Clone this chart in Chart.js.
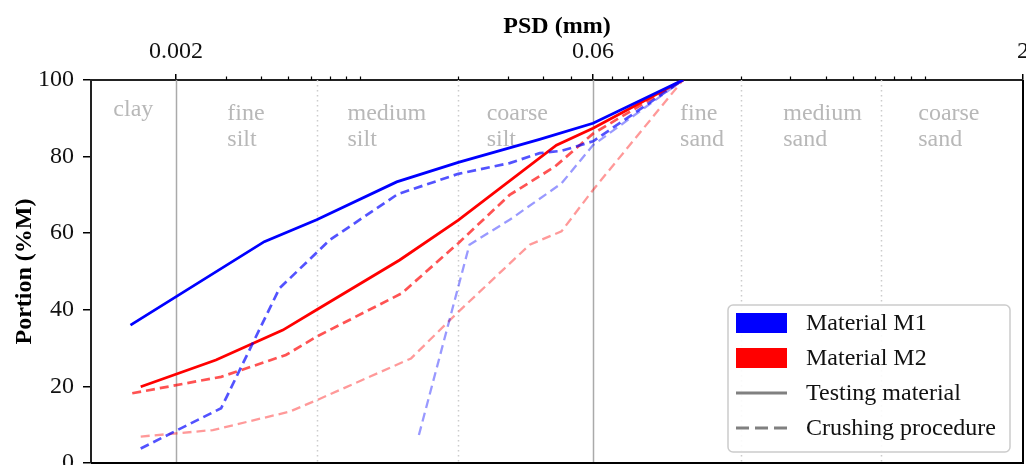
<!DOCTYPE html>
<html>
<head>
<meta charset="utf-8">
<script src="https://cdn.jsdelivr.net/npm/chart.js@4.4.0/dist/chart.umd.min.js"></script>
<style>
  html, body { margin: 0; padding: 0; background: #fff; overflow: hidden; }
  #wrap { width: 1026px; height: 465px; overflow: hidden; }
  canvas { display: block; }
</style>
</head>
<body>
<div id="wrap"><canvas id="psd" width="1050" height="500"></canvas></div>
<script>
// particle size (mm) and portion (%M) for each curve
const m1TestSize = [0.00138, 0.00411, 0.0063, 0.0121, 0.02, 0.0388, 0.06, 0.125];
const m1TestPortion = [36, 57.8, 63.5, 73.4, 78.5, 84.5, 88.7, 100];

const m1CrushASize = [0.0015, 0.00289, 0.00465, 0.007, 0.0122, 0.02, 0.0304, 0.0388, 0.0464, 0.06, 0.125];
const m1CrushAPortion = [3.8, 14.3, 45.6, 58.2, 70.2, 75.5, 78.3, 80.9, 81.5, 84, 100];

const m1CrushBSize = [0.0145, 0.0219, 0.0304, 0.0464, 0.06, 0.125];
const m1CrushBPortion = [7.3, 57, 63.5, 73, 83, 100];

const m2TestSize = [0.0015, 0.00277, 0.00478, 0.0063, 0.0124, 0.02, 0.0445, 0.06, 0.125];
const m2TestPortion = [19.9, 26.9, 34.7, 40, 53, 63.4, 83, 87.4, 100];

const m2CrushASize = [0.0014, 0.00289, 0.0049, 0.0063, 0.0126, 0.02, 0.0304, 0.044, 0.06, 0.125];
const m2CrushAPortion = [18.2, 22.5, 28.2, 33, 44.3, 57.4, 70, 77.4, 86, 100];

const m2CrushBSize = [0.0015, 0.0027, 0.00505, 0.0063, 0.0136, 0.0197, 0.0358, 0.0464, 0.06, 0.125];
const m2CrushBPortion = [6.9, 8.6, 13.4, 16.4, 27.3, 39, 57, 60.5, 71.3, 100];

// axes
const xMajorTicks = [0.002, 0.06, 2];
const xMinorTicks = [0.003, 0.004, 0.005, 0.006, 0.007, 0.008, 0.009,
  0.02, 0.03, 0.04, 0.05, 0.07, 0.08, 0.09,
  0.2, 0.3, 0.4, 0.5, 0.6, 0.7, 0.8, 0.9];
const yTicks = [0, 20, 40, 60, 80, 100];

// soil classes
const solidBounds = [0.002, 0.06];
const dottedBounds = [0.0063, 0.02, 0.2, 0.63];
const soilNames = [["clay"], ["fine", "silt"], ["medium", "silt"], ["coarse", "silt"],
  ["fine", "sand"], ["medium", "sand"], ["coarse", "sand"]];
const soilLabelX = [0.0012, 0.00304, 0.0081, 0.0252, 0.122, 0.283, 0.851];
const soilLabelY = [90.6, 89.6, 89.6, 89.6, 89.6, 89.6, 89.6];

const legendItems = ["Material M1", "Material M2", "Testing material", "Crushing procedure"];

const SERIF = "'Liberation Serif', 'Times New Roman', serif";

function pts(xs, ys) {
    return xs.map((x, i) => ({ x: x, y: ys[i] }));
}

function series(label, xs, ys, color, width, dash) {
    return {
        label: label,
        data: pts(xs, ys),
        borderColor: color,
        borderWidth: width,
        borderDash: dash,
        pointRadius: 0,
        tension: 0,
        fill: false
    };
}

const dash = [9, 5];

const soilPlugin = {
    id: "soil",
    beforeDatasetsDraw(chart) {
        const ctx = chart.ctx;
        const area = chart.chartArea;
        const xs = chart.scales.x;
        const ys = chart.scales.y;
        ctx.save();
        ctx.lineWidth = 1.5;
        ctx.strokeStyle = "#aaaaaa";
        solidBounds.forEach(v => {
            const px = Math.round(xs.getPixelForValue(v)) + 0.5;
            ctx.beginPath();
            ctx.moveTo(px, area.top);
            ctx.lineTo(px, area.bottom);
            ctx.stroke();
        });
        ctx.strokeStyle = "#cccccc";
        ctx.setLineDash([1.5, 3.5]);
        dottedBounds.forEach(v => {
            const px = Math.round(xs.getPixelForValue(v)) + 0.5;
            ctx.beginPath();
            ctx.moveTo(px, area.top);
            ctx.lineTo(px, area.bottom);
            ctx.stroke();
        });
        ctx.setLineDash([]);
        ctx.fillStyle = "#b8b8b8";
        ctx.font = "24px " + SERIF;
        ctx.textAlign = "left";
        ctx.textBaseline = "alphabetic";
        soilNames.forEach((lines, i) => {
            const px = xs.getPixelForValue(soilLabelX[i]);
            const py = ys.getPixelForValue(soilLabelY[i]);
            lines.forEach((t, j) => ctx.fillText(t, px, py + j * 26.5));
        });
        ctx.restore();
    },
    afterDraw(chart) {
        const ctx = chart.ctx;
        const area = chart.chartArea;
        const xs = chart.scales.x;
        ctx.save();
        // frame: right and bottom spines
        ctx.strokeStyle = "#000";
        ctx.lineWidth = 2;
        ctx.beginPath();
        ctx.moveTo(area.right, area.top);
        ctx.lineTo(area.right, area.bottom);
        ctx.lineTo(area.left, area.bottom);
        ctx.stroke();
        // minor ticks on the top axis
        ctx.lineWidth = 1.2;
        xMinorTicks.forEach(v => {
            const px = Math.round(xs.getPixelForValue(v)) + 0.5;
            ctx.beginPath();
            ctx.moveTo(px, area.top);
            ctx.lineTo(px, area.top - 3.5);
            ctx.stroke();
        });
        // legend
        const bx = 728, by = 305, bw = 282, bh = 147;
        ctx.fillStyle = "rgba(255,255,255,0.9)";
        ctx.strokeStyle = "#cccccc";
        ctx.lineWidth = 1.5;
        ctx.beginPath();
        ctx.roundRect(bx, by, bw, bh, 5);
        ctx.fill();
        ctx.stroke();
        const rowY = [323, 358, 393, 428];
        ctx.fillStyle = "#0000ff";
        ctx.fillRect(736, 313, 51, 20);
        ctx.fillStyle = "#ff0000";
        ctx.fillRect(736, 348, 51, 20);
        ctx.strokeStyle = "#808080";
        ctx.lineWidth = 3;
        ctx.beginPath();
        ctx.moveTo(736, rowY[2]);
        ctx.lineTo(787, rowY[2]);
        ctx.stroke();
        ctx.setLineDash([13, 6]);
        ctx.beginPath();
        ctx.moveTo(736, rowY[3]);
        ctx.lineTo(787, rowY[3]);
        ctx.stroke();
        ctx.setLineDash([]);
        ctx.fillStyle = "#111";
        ctx.font = "24px " + SERIF;
        ctx.textAlign = "left";
        ctx.textBaseline = "middle";
        legendItems.forEach((t, i) => ctx.fillText(t, 806, rowY[i] + 1));
        ctx.restore();
    }
};

new Chart(document.getElementById("psd"), {
    type: "line",
    data: {
        datasets: [
            series("M1 testing", m1TestSize, m1TestPortion, "#0000ff", 2.8, []),
            series("M1 crushing A", m1CrushASize, m1CrushAPortion, "rgba(0,0,255,0.68)", 2.7, dash),
            series("M1 crushing B", m1CrushBSize, m1CrushBPortion, "rgba(0,0,255,0.4)", 2.3, dash),
            series("M2 testing", m2TestSize, m2TestPortion, "#ff0000", 2.8, []),
            series("M2 crushing A", m2CrushASize, m2CrushAPortion, "rgba(255,0,0,0.68)", 2.7, dash),
            series("M2 crushing B", m2CrushBSize, m2CrushBPortion, "rgba(255,0,0,0.4)", 2.3, dash)
        ]
    },
    options: {
        responsive: false,
        animation: false,
        devicePixelRatio: 1,
        layout: { padding: { left: 0, top: 0, right: 27, bottom: 37 } },
        plugins: { legend: { display: false }, tooltip: { enabled: false } },
        scales: {
            x: {
                type: "logarithmic",
                position: "top",
                min: 0.001,
                max: 2,
                afterBuildTicks: s => { s.ticks = xMajorTicks.map(v => ({ value: v })); },
                afterFit: s => { s.height = 80; s.paddingLeft = 0; s.paddingRight = 0; },
                ticks: {
                    autoSkip: false,
                    maxRotation: 0,
                    padding: 8,
                    color: "#111",
                    font: { family: SERIF, size: 24 },
                    callback: v => String(v)
                },
                grid: { drawOnChartArea: false, drawTicks: true, tickLength: 6, color: "#000", lineWidth: 1.5 },
                border: { display: true, color: "#222", width: 2 },
                title: {
                    display: true,
                    text: "PSD (mm)",
                    color: "#000",
                    font: { family: SERIF, size: 24, weight: "bold" },
                    padding: { top: 12, bottom: 0 }
                }
            },
            y: {
                type: "linear",
                min: 0,
                max: 100,
                afterBuildTicks: s => { s.ticks = yTicks.map(v => ({ value: v })); },
                afterFit: s => { s.width = 91; s.paddingTop = 0; s.paddingBottom = 0; },
                ticks: {
                    padding: 9,
                    color: "#111",
                    font: { family: SERIF, size: 24 }
                },
                grid: { drawOnChartArea: false, drawTicks: true, tickLength: 8, color: "#000", lineWidth: 1.5 },
                border: { display: true, color: "#222", width: 2 },
                title: {
                    display: true,
                    text: "Portion (%M)",
                    color: "#000",
                    font: { family: SERIF, size: 24, weight: "bold" },
                    padding: { top: 10, bottom: 0 }
                }
            }
        }
    },
    plugins: [soilPlugin]
});
</script>
</body>
</html>
